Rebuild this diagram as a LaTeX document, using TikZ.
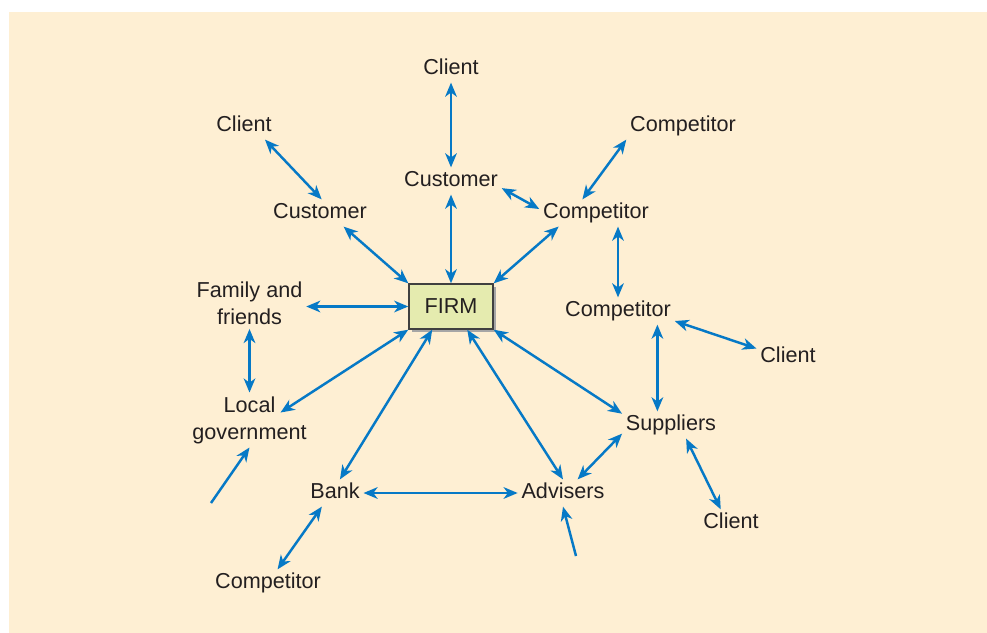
\documentclass[tikz,border=0pt]{standalone}
\usepackage{fontspec}
\setmainfont{Liberation Sans}
\usetikzlibrary{arrows.meta,shadows}

\definecolor{panel}{RGB}{254,239,211}
\definecolor{linkblue}{RGB}{6,121,198}
\definecolor{firmfill}{RGB}{229,235,175}
\definecolor{txt}{RGB}{35,31,32}

\tikzset{
  party/.style={text height=1.65ex,text depth=.45ex},
  tie/.style={{Stealth[length=8pt,width=6.6pt,inset=2.4pt]}-{Stealth[length=8pt,width=6.6pt,inset=2.4pt]},draw=linkblue,line width=1.4pt},
  feed/.style={-{Stealth[length=8pt,width=6.6pt,inset=2.4pt]},draw=linkblue,line width=1.4pt}
}

\begin{document}
\begin{tikzpicture}[x=0.2mm,y=-0.2mm,every node/.style={font=\fontsize{12.3}{15.4}\selectfont,text=txt,inner sep=2pt}]
\useasboundingbox (0,0) rectangle (987,633);
\fill[panel] (9,12) rectangle (987,633);

% the firm
\node[draw=black!75,line width=0.8pt,fill=firmfill,minimum width=1.68cm,minimum height=0.9cm,inner sep=0pt,
  drop shadow={shadow xshift=1.8pt,shadow yshift=-1.8pt,fill=black!35,opacity=1}] (firm) at (451,306.5) {FIRM};

% parties round it
\node[party] (client1) at (451,69) {Client};
\node[party] (customer1) at (451,181) {Customer};
\node[party] (client2) at (244,126) {Client};
\node[party] (customer2) at (320,213) {Customer};
\node[party] (competitor1) at (683,126) {Competitor};
\node[party] (competitor2) at (596,213) {Competitor};
\node[party] (competitor3) at (618,311) {Competitor};
\node[party] (client3) at (788,357) {Client};
\node[align=center] (family) at (249.5,303.6) {Family and\\friends};
\node[align=center] (local) at (249.5,420) {Local\\government};
\node[party] (suppliers) at (671,425) {Suppliers};
\node[party] (bank) at (335,493) {Bank};
\node[party] (advisers) at (563,493) {Advisers};
\node[party] (client4) at (731,523) {Client};
\node[party] (competitor4) at (268,583) {Competitor};
\coordinate (inLocal) at (211,503);
\coordinate (inAdv) at (576,556);

% links
\draw[tie] (client1) -- (customer1);
\draw[tie] (customer1) -- (firm);
\draw[tie] (client2.-33) -- (customer2.83);
\draw[tie] (customer2.-30) -- (firm.north west);
\draw[tie] (customer1.-8) -- (competitor2.176);
\draw[tie] (competitor1.south west) -- (competitor2.135);
\draw[tie] (competitor2.200) -- (firm.north east);
\draw[tie] (competitor3.north |- competitor2.south) -- (competitor3.north);
\draw[tie] (competitor3.-10) -- (client3.165);
\draw[tie] (suppliers.135 |- competitor3.south) -- (suppliers.135);
\draw[tie] (family.east |- firm.west) -- (firm.west);
\draw[tie] (family) -- (local);
\draw[tie] ([shift={(31,20)}]local.north) -- (firm.south west);
\draw[feed] (inLocal) -- (local.south);
\draw[tie] (firm.231) -- (bank.70);
\draw[tie] (firm.-55) -- (advisers.north);
\draw[tie] (firm.south east) -- (suppliers.167);
\draw[tie] (bank) -- (advisers);
\draw[tie] (advisers.43) -- (suppliers.190);
\draw[tie] (suppliers.-42) -- (client4.127);
\draw[tie] (bank.226) -- (competitor4.55);
\draw[feed] (inAdv) -- (advisers.south);
\end{tikzpicture}
\end{document}
